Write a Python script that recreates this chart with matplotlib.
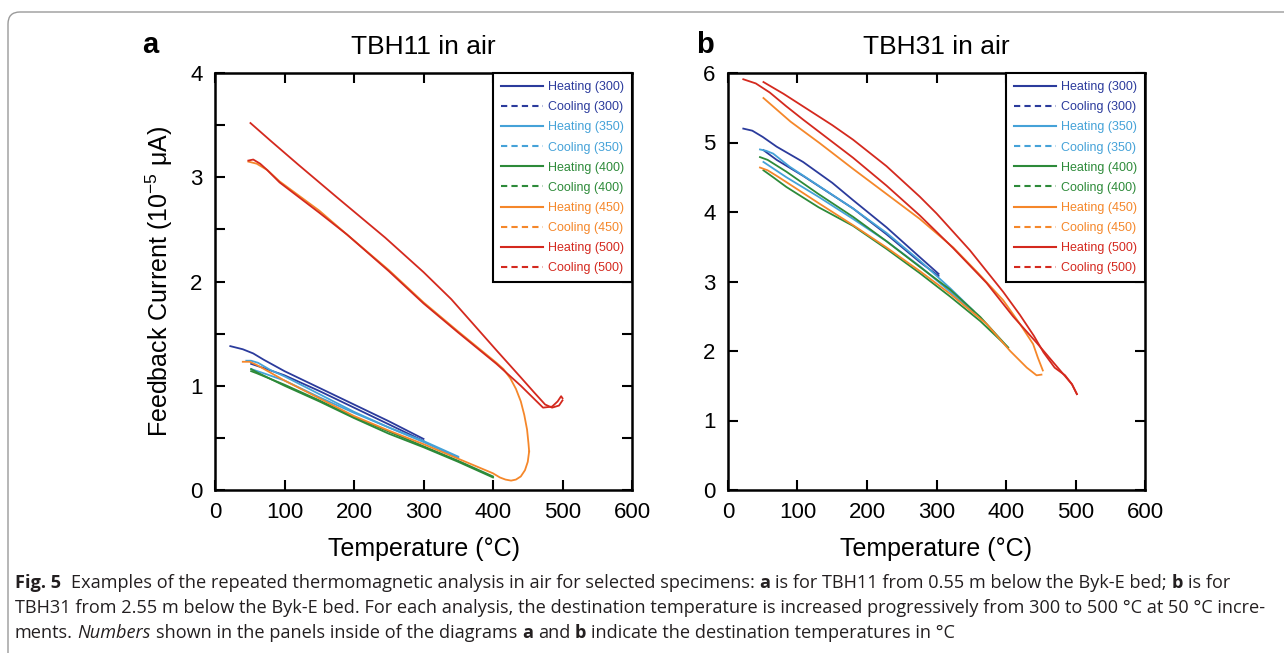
import matplotlib
matplotlib.use("Agg")
import matplotlib.pyplot as plt
from matplotlib.lines import Line2D
from matplotlib.patches import FancyBboxPatch
from matplotlib.transforms import IdentityTransform
from matplotlib.ticker import MultipleLocator

plt.rcParams['font.family'] = ['Liberation Sans', 'DejaVu Sans']
plt.rcParams['mathtext.fontset'] = 'custom'
plt.rcParams['mathtext.rm'] = 'Liberation Sans'
plt.rcParams['mathtext.it'] = 'Liberation Sans:italic'
plt.rcParams['mathtext.bf'] = 'Liberation Sans:bold'

# ---------------- data ----------------
steps = ["300", "350", "400", "450", "500"]
colors = ["#2b3b9c", "#45a2d8", "#2d8a39", "#f5872a", "#d4291e"]

# Panel a : TBH11 in air
a_H300_T = [22, 40, 55, 70, 100, 150, 200, 250, 300]
a_H300_M = [1.38, 1.35, 1.31, 1.25, 1.14, 0.98, 0.82, 0.66, 0.49]
a_C300_T = [300, 250, 200, 150, 100, 70, 52]
a_C300_M = [0.47, 0.63, 0.79, 0.95, 1.10, 1.17, 1.21]

a_H350_T = [45, 52, 62, 80, 100, 150, 200, 250, 300, 350]
a_H350_M = [1.24, 1.24, 1.22, 1.15, 1.09, 0.92, 0.75, 0.60, 0.47, 0.32]
a_C350_T = [350, 300, 250, 200, 150, 100, 70, 52]
a_C350_M = [0.31, 0.46, 0.60, 0.74, 0.89, 1.05, 1.12, 1.16]

a_H400_T = [52, 60, 100, 150, 200, 250, 300, 350, 400]
a_H400_M = [1.16, 1.13, 1.00, 0.85, 0.69, 0.54, 0.41, 0.27, 0.12]
a_C400_T = [400, 350, 300, 250, 200, 150, 100, 60, 52]
a_C400_M = [0.13, 0.28, 0.42, 0.56, 0.70, 0.86, 1.01, 1.12, 1.14]

a_H450_T = [40, 50, 60, 100, 150, 200, 250, 300, 350, 400, 410, 418, 426, 433, 440, 446, 450, 452]
a_H450_M = [1.23, 1.23, 1.20, 1.05, 0.88, 0.71, 0.57, 0.44, 0.30, 0.16, 0.12, 0.10, 0.09, 0.10, 0.13, 0.19, 0.27, 0.37]
a_C450_T = [452, 451, 449, 445, 440, 433, 425, 415, 405, 350, 300, 250, 190, 150, 93, 75, 60, 48]
a_C450_M = [0.37, 0.45, 0.58, 0.72, 0.85, 0.97, 1.07, 1.16, 1.22, 1.52, 1.80, 2.11, 2.45, 2.68, 2.96, 3.07, 3.13, 3.15]

a_H500_T = [48, 55, 65, 75, 93, 150, 190, 250, 300, 350, 405, 440, 472, 485, 493, 498, 500]
a_H500_M = [3.16, 3.17, 3.13, 3.07, 2.95, 2.66, 2.45, 2.10, 1.79, 1.51, 1.21, 1.00, 0.79, 0.80, 0.85, 0.90, 0.88]
a_C500_T = [500, 495, 485, 475, 460, 440, 405, 340, 300, 245, 175, 120, 80, 51]
a_C500_M = [0.86, 0.81, 0.79, 0.82, 0.93, 1.08, 1.34, 1.83, 2.09, 2.42, 2.81, 3.12, 3.35, 3.52]

# Panel b : TBH31 in air
b_H300_T = [22, 35, 50, 70, 108, 150, 180, 228, 276, 303]
b_H300_M = [5.20, 5.17, 5.08, 4.94, 4.72, 4.42, 4.17, 3.78, 3.35, 3.11]
b_C300_T = [303, 276, 228, 180, 108, 70, 51]
b_C300_M = [3.08, 3.28, 3.68, 4.05, 4.52, 4.75, 4.89]

b_H350_T = [46, 55, 65, 89, 130, 180, 228, 276, 320, 353]
b_H350_M = [4.90, 4.88, 4.84, 4.65, 4.38, 4.05, 3.70, 3.30, 2.90, 2.58]
b_C350_T = [353, 320, 276, 228, 180, 130, 84, 51]
b_C350_M = [2.55, 2.85, 3.22, 3.58, 3.90, 4.22, 4.50, 4.72]

b_H400_T = [46, 57, 84, 130, 180, 228, 276, 320, 363, 403]
b_H400_M = [4.79, 4.75, 4.58, 4.26, 3.93, 3.58, 3.21, 2.88, 2.49, 2.05]
b_C400_T = [403, 363, 320, 276, 228, 180, 130, 84, 65, 51]
b_C400_M = [2.05, 2.43, 2.78, 3.12, 3.47, 3.80, 4.07, 4.36, 4.50, 4.60]

b_H450_T = [46, 57, 70, 84, 130, 180, 228, 276, 320, 372, 406, 430, 444, 451]
b_H450_M = [4.64, 4.60, 4.52, 4.43, 4.13, 3.81, 3.49, 3.15, 2.82, 2.39, 2.00, 1.76, 1.65, 1.66]
b_C450_T = [453, 446, 439, 420, 396, 360, 324, 276, 228, 180, 132, 90, 51]
b_C450_M = [1.72, 1.90, 2.10, 2.39, 2.73, 3.12, 3.49, 3.90, 4.26, 4.62, 4.99, 5.30, 5.64]

b_H500_T = [22, 40, 60, 84, 108, 180, 228, 276, 324, 372, 410, 444, 478, 495, 502]
b_H500_M = [5.91, 5.85, 5.72, 5.52, 5.33, 4.78, 4.38, 3.95, 3.48, 2.98, 2.50, 2.12, 1.72, 1.52, 1.38]
b_C500_T = [502, 495, 485, 470, 454, 440, 420, 396, 348, 300, 276, 228, 180, 150, 108, 80, 51]
b_C500_M = [1.38, 1.52, 1.65, 1.76, 1.98, 2.22, 2.52, 2.85, 3.45, 3.98, 4.22, 4.66, 5.04, 5.25, 5.52, 5.70, 5.87]

panel_a = [((a_H300_T, a_H300_M), (a_C300_T, a_C300_M)),
           ((a_H350_T, a_H350_M), (a_C350_T, a_C350_M)),
           ((a_H400_T, a_H400_M), (a_C400_T, a_C400_M)),
           ((a_H450_T, a_H450_M), (a_C450_T, a_C450_M)),
           ((a_H500_T, a_H500_M), (a_C500_T, a_C500_M))]
panel_b = [((b_H300_T, b_H300_M), (b_C300_T, b_C300_M)),
           ((b_H350_T, b_H350_M), (b_C350_T, b_C350_M)),
           ((b_H400_T, b_H400_M), (b_C400_T, b_C400_M)),
           ((b_H450_T, b_H450_M), (b_C450_T, b_C450_M)),
           ((b_H500_T, b_H500_M), (b_C500_T, b_C500_M))]

titles = ["TBH11 in air", "TBH31 in air"]
letters = ["a", "b"]
ylims = [4, 6]

caption_lines = [
    [("Fig. 5", "bold", "normal"), ("  Examples of the repeated thermomagnetic analysis in air for selected specimens: ", "normal", "normal"),
     ("a", "bold", "normal"), (" is for TBH11 from 0.55 m below the Byk-E bed; ", "normal", "normal"),
     ("b", "bold", "normal"), (" is for", "normal", "normal")],
    [("TBH31 from 2.55 m below the Byk-E bed. For each analysis, the destination temperature is increased progressively from 300 to 500 °C at 50 °C incre-", "normal", "normal")],
    [("ments. ", "normal", "normal"), ("Numbers", "normal", "italic"),
     (" shown in the panels inside of the diagrams ", "normal", "normal"), ("a", "bold", "normal"),
     (" and ", "normal", "normal"), ("b", "bold", "normal"),
     (" indicate the destination temperatures in °C", "normal", "normal")],
]

# ---------------- figure ----------------
W, H = 1284, 653
fig = plt.figure(figsize=(W / 100, H / 100), dpi=100)
fig.patch.set_facecolor("white")

# rounded border (extends past right / bottom edges)
border = FancyBboxPatch((8, -40), 1320, H - 12 + 40, boxstyle="round,pad=0,rounding_size=12",
                        transform=IdentityTransform(), facecolor="none",
                        edgecolor="#9a9a9a", linewidth=1.0)
fig.add_artist(border)

axes_px = [(215, 490, 417, 417), (728, 490, 417, 417)]
letter_x = [150, 705]

for i, (data, (l, b, w, h)) in enumerate(zip([panel_a, panel_b], axes_px)):
    ax = fig.add_axes([l / W, (H - b) / H, w / W, h / H])
    for (heat, cool), c in zip(data, colors):
        ax.plot(heat[0], heat[1], color=c, lw=1.3, solid_joinstyle="round")
        ax.plot(cool[0], cool[1], color=c, lw=1.3, solid_joinstyle="round")
    ax.set_xlim(0, 600)
    ax.set_ylim(0, ylims[i])
    ax.xaxis.set_major_locator(MultipleLocator(100))
    ax.yaxis.set_major_locator(MultipleLocator(1))
    if i == 0:
        ax.yaxis.set_minor_locator(MultipleLocator(0.5))
    ax.tick_params(which="both", direction="in", length=7, width=1.5, top=True, right=True,
                   labelsize=16, pad=9)
    for sp in ax.spines.values():
        sp.set_linewidth(1.8)
    ax.set_title(titles[i], fontsize=19, pad=14)
    ax.set_xlabel("Temperature (°C)", fontsize=18, labelpad=10)
    if i == 0:
        ax.set_ylabel(r"Feedback Current (10$^{-5}$ μA)", fontsize=18, labelpad=11)
    handles = []
    for s, c in zip(steps, colors):
        handles.append(Line2D([], [], color=c, lw=1.5, label=f"Heating ({s})"))
        handles.append(Line2D([], [], color=c, lw=1.5, ls=(0, (3, 2)), label=f"Cooling ({s})"))
    leg = ax.legend(handles=handles, loc="upper right", bbox_to_anchor=(1, 1), borderaxespad=0,
                    fontsize=9, fancybox=False, edgecolor="black", framealpha=1,
                    handlelength=3.36, handletextpad=0.4, labelspacing=0.65, borderpad=0.65,
                    labelcolor="linecolor")
    leg.get_frame().set_linewidth(1.5)
    fig.text(letter_x[i] / W, 1 - 45 / H, letters[i], fontsize=21, weight="bold", ha="center", va="center")

# ---------------- caption ----------------
renderer = fig.canvas.get_renderer()
cap_font = ["Open Sans", "DejaVu Sans"]


def measure(s, size, weight, style):
    t = fig.text(0, 0, s, fontsize=size, family=cap_font, weight=weight, style=style)
    wd = t.get_window_extent(renderer).width
    t.remove()
    return wd


def run_width(s, size, weight, style, sp):
    core = s.strip(" ")
    lead = len(s) - len(s.lstrip(" "))
    trail = len(s) - len(s.rstrip(" "))
    return (measure(core, size, weight, style) if core else 0), lead * sp, trail * sp, core


base = 10.0
w2 = measure(caption_lines[1][0][0], base, "normal", "normal")
size = base * 1253 / w2
space_w = measure("a a", size, "normal", "normal") - measure("aa", size, "normal", "normal")

line_y = [583, 608, 633]
for runs, yc in zip(caption_lines, line_y):
    x = 15
    for s, weight, style in runs:
        wd, lead, trail, core = run_width(s, size, weight, style, space_w)
        x += lead
        if core:
            fig.text(x, H - yc, core, fontsize=size, family=cap_font, weight=weight, style=style,
                     transform=IdentityTransform(), ha="left", va="center", color="#231f20")
        x += wd + trail

fig.savefig("out.png", dpi=100)
